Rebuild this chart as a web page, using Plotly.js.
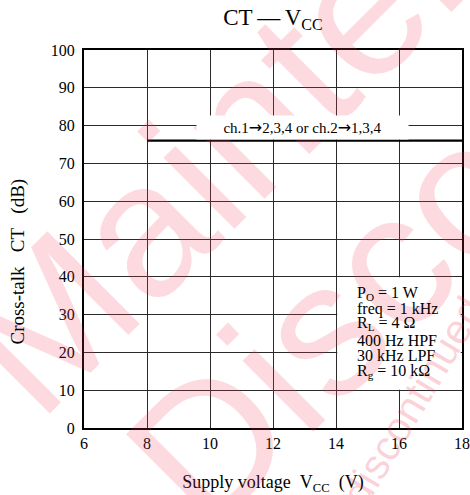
<!DOCTYPE html>
<html>
<head>
<meta charset="utf-8">
<script src="https://cdn.plot.ly/plotly-3.0.1.min.js"></script>
<style>html,body{margin:0;padding:0;background:#fff;}#chart{width:470px;height:495px;}</style>
</head>
<body>
<div id="chart"></div>
<script>
// Data
const vcc = [8, 18];
const crosstalk = [76, 76];
const arrow = "<span style=\"font-family:'DejaVu Sans';font-size:16px\">\u2192</span>";
const curveLabel = "ch.1" + arrow + "2,3,4 or ch.2" + arrow + "1,3,4";
const paramLines = ["P<sub>O</sub> = 1 W", "freq = 1 kHz", "R<sub>L</sub> = 4 \u03a9", "400 Hz HPF", "30 kHz LPF", "R<sub>g</sub> = 10 k\u03a9"];
const paramY = [35.7, 31.6, 27.6, 23.2, 19.1, 15.0];
const xTicks = [6, 8, 10, 12, 14, 16, 18];
const yTicks = [0, 10, 20, 30, 40, 50, 60, 70, 80, 90, 100];
const watermarkWords = ["Maintenance", "Discontinued"];
const yTitle = 'Cross-talk\u00a0\u00a0\u00a0CT\u00a0\u00a0\u00a0(dB)';

const serif = "Liberation Serif, Times New Roman, serif";
const sans = "Liberation Sans, Arial, sans-serif";
const wm = 'rgba(240,60,90,0.19)';

const annotations = [];
// watermark
annotations.push({xref:'paper', yref:'paper', x:0.775, y:1.15, xanchor:'center', yanchor:'middle',
  text:watermarkWords[0], showarrow:false, textangle:-45, font:{family:sans, size:190, color:wm}});
annotations.push({xref:'paper', yref:'paper', x:1.23, y:0.86, xanchor:'center', yanchor:'middle',
  text:watermarkWords[1], showarrow:false, textangle:-45, font:{family:sans, size:190, color:wm}});
annotations.push({xref:'paper', yref:'paper', x:0.87, y:0.07, xanchor:'center', yanchor:'middle',
  text:watermarkWords[1].toLowerCase(), showarrow:false, textangle:-59, font:{family:sans, size:42, color:'rgba(235,50,80,0.22)'}});
// y axis title
annotations.push({xref:'paper', yref:'paper', x:-0.175, y:0.44, xanchor:'center', yanchor:'middle',
  text:yTitle, showarrow:false, textangle:-90, font:{family:serif, size:19, color:'#000'}});
// curve label
annotations.push({x:12.94, y:79.6, xref:'x', yref:'y', text:curveLabel, showarrow:false,
  xanchor:'center', yanchor:'middle', width:211, height:23, align:'center', valign:'middle',
  bgcolor:'#ffffff', borderpad:0, font:{family:serif, size:15, color:'#000'}});
// parameter lines
paramLines.forEach((t, i) => {
  annotations.push({x:14.6, y:paramY[i], xref:'x', yref:'y', text:t, showarrow:false,
    xanchor:'left', yanchor:'middle', font:{family:serif, size:16, color:'#000'}});
});

const trace = {x:vcc, y:crosstalk, mode:'lines', line:{color:'#000', width:2.3}, hoverinfo:'skip'};

const layout = {
  width:470, height:495,
  margin:{l:84, r:8, t:50, b:67},
  paper_bgcolor:'#fff', plot_bgcolor:'#fff',
  showlegend:false,
  title:{text:'CT\u2009\u2014\u2009V<sub>CC</sub>', xref:'paper', x:0.5, xanchor:'center', yref:'container', y:0.982, yanchor:'top', font:{family:serif, size:23, color:'#000'}},
  xaxis:{range:[6,18], tickvals:xTicks, ticktext:xTicks.map(String), showgrid:true, gridcolor:'#2a2a2a', gridwidth:1,
    showline:true, linecolor:'#000', linewidth:2, mirror:true, zeroline:false, ticks:'', ticklen:0,
    tickfont:{family:serif, size:16, color:'#000'},
    title:{text:'Supply voltage\u00a0\u00a0V<sub>CC</sub>\u00a0\u00a0(V)', standoff:24, font:{family:serif, size:18, color:'#000'}}},
  yaxis:{range:[0,100], tickvals:yTicks, ticktext:yTicks.map(String), showgrid:true, gridcolor:'#2a2a2a', gridwidth:1,
    showline:true, linecolor:'#000', linewidth:2, mirror:true, zeroline:false, ticks:'', ticklen:0, ticklabelstandoff:4,
    tickfont:{family:serif, size:16, color:'#000'}},
  shapes:[{type:'rect', xref:'x', yref:'y', x0:14.04, x1:17.96, y0:10.15, y1:39.85, fillcolor:'#fff', line:{width:0}, layer:'between'}],
  annotations:annotations
};

Plotly.newPlot('chart', [trace], layout, {staticPlot:true, displayModeBar:false});
</script>
</body>
</html>
